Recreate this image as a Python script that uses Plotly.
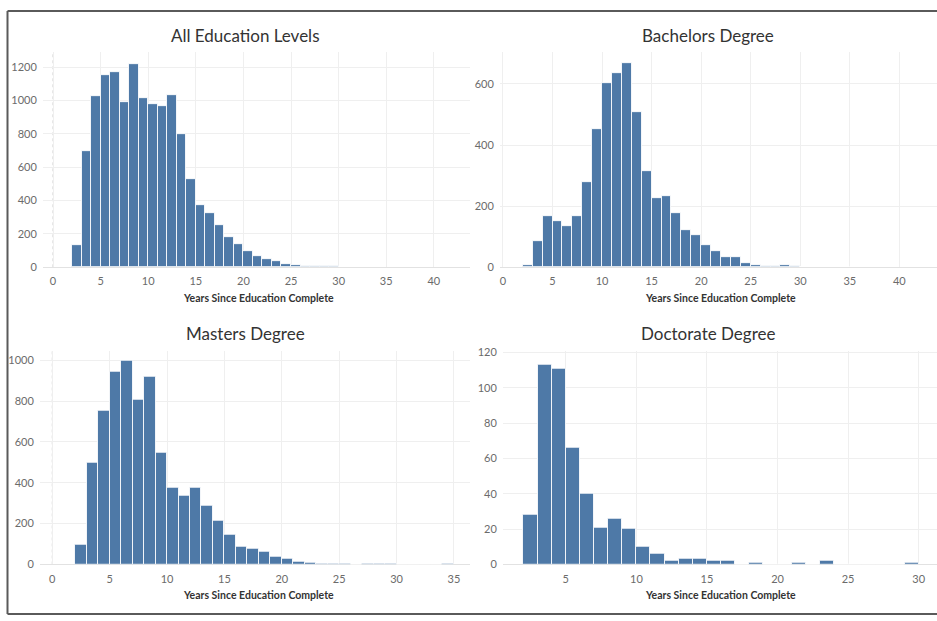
import plotly.graph_objects as go

# ---------------- data (1-year bins; value = bin left edge) ----------------
all_bins = list(range(2, 35))
all_counts = [131, 696, 1025, 1153, 1169, 988, 1220, 1016, 980, 969, 1035, 800,
              531, 373, 324, 253, 182, 139, 98, 65, 47, 35, 20, 12, 4, 8, 8, 4,
              0, 3, 0, 0, 3]

bach_bins = list(range(2, 35))
bach_counts = [6, 85, 166, 151, 135, 166, 278, 453, 602, 634, 667, 509, 315, 225,
               234, 177, 122, 104, 71, 54, 34, 32, 14, 6, 3, 3, 6, 3, 0, 1, 0, 0, 1]

mast_bins = list(range(2, 35))
mast_counts = [96, 500, 753, 942, 995, 807, 920, 547, 373, 335, 373, 288, 214, 144,
               88, 76, 60, 36, 26, 15, 10, 3, 3, 3, 0, 2, 2, 2, 0, 0, 0, 0, 2]

doc_bins = list(range(2, 30))
doc_counts = [28, 113, 111, 66, 40, 21, 26, 20, 10, 6, 2, 3, 3, 2, 2, 0, 1, 0, 0,
              1, 0, 2, 0, 0, 0, 0, 0, 1]

titles = ["All Education Levels", "Bachelors Degree", "Masters Degree", "Doctorate Degree"]
x_title = "Years Since Education Complete"

BAR = "#4e79a7"
GRID = "#efefef"
TICK = "#6b6b6b"
FONT = "Lato"

W, H = 937, 621

# plot areas in pixels: (left, right, top, bottom)
areas = [(43, 470, 48, 267), (500, 937, 48, 267), (40, 470, 352, 569.5), (503, 937, 352, 569.5)]
xranges = [[-1.05, 43.8], [-0.3, 43.8], [-1.07, 36.4], [0.55, 31.3]]
yranges = [[0, 1290], [0, 704], [0, 1046], [0, 121]]
yticks = [list(range(0, 1201, 200)), list(range(0, 601, 200)), list(range(0, 1001, 200)), list(range(0, 121, 20))]
xticks = [list(range(0, 41, 5)), list(range(0, 41, 5)), list(range(0, 36, 5)), list(range(5, 31, 5))]

data = [(all_bins, all_counts), (bach_bins, bach_counts), (mast_bins, mast_counts), (doc_bins, doc_counts)]

fig = go.Figure()
layout = dict(
    width=W, height=H, margin=dict(l=0, r=0, t=0, b=0),
    paper_bgcolor="white", plot_bgcolor="white", showlegend=False,
    bargap=0, font=dict(family=FONT, color=TICK, size=11),
)
annotations = []
shapes = []

for i, ((bins, counts), (l, r, t, b)) in enumerate(zip(data, areas)):
    sx = "" if i == 0 else str(i + 1)
    fig.add_trace(go.Bar(
        x=bins, y=counts, offset=0, width=1,
        marker=dict(color=BAR, line=dict(color="rgba(255,255,255,0.85)", width=1)),
        xaxis="x" + sx, yaxis="y" + sx, hoverinfo="x+y",
    ))
    layout["xaxis" + sx] = dict(
        domain=[l / W, r / W], range=xranges[i], anchor="y" + sx,
        tickvals=xticks[i], showgrid=True, gridcolor=GRID, gridwidth=1,
        zeroline=False,
        showline=False, ticks="outside", ticklen=4, tickcolor="rgba(0,0,0,0)",
        tickfont=dict(size=11, color=TICK, family=FONT), fixedrange=True,
    )
    layout["yaxis" + sx] = dict(
        domain=[1 - b / H, 1 - t / H], range=yranges[i], anchor="x" + sx,
        tickvals=yticks[i], showgrid=True, gridcolor=GRID, gridwidth=1,
        zeroline=True, zerolinecolor="#e2e2e2", zerolinewidth=1,
        showline=False, ticks="outside", ticklen=3, tickcolor="rgba(0,0,0,0)",
        tickfont=dict(size=11, color=TICK, family=FONT), fixedrange=True,
    )
    if i in (0, 2):
        # dotted zero reference line at x = 0
        shapes.append(dict(type="line", xref="x" + sx, yref="y" + sx + " domain",
                           x0=0, x1=0, y0=0, y1=1, layer="below",
                           line=dict(color="#cfcfcf", width=1, dash="dot")))
    # panel title
    annotations.append(dict(
        text=titles[i], xref="paper", yref="paper",
        x=(245 if i % 2 == 0 else 708) / W, y=1 - ((31 if i < 2 else 334)) / H,
        xanchor="center", yanchor="middle", showarrow=False,
        font=dict(family=FONT, size=17, color="#333333"),
    ))
    # axis title
    annotations.append(dict(
        text=x_title, xref="paper", yref="paper",
        x=(258 if i % 2 == 0 else 720) / W, y=1 - ((298 if i < 2 else 601)) / H,
        xanchor="center", yanchor="middle", showarrow=False,
        font=dict(family=FONT, size=10.5, color="#333333", weight="bold"),
    ))

# outer frame: left, top and bottom edges only
frame = dict(color="#5a5a5a", width=2)
x_left = 7.5 / W
y_top = 1 - 6 / H
y_bot = 1 - 620 / H
shapes += [
    dict(type="line", xref="paper", yref="paper", x0=x_left, x1=x_left, y0=y_bot, y1=y_top, line=frame, layer="above"),
    dict(type="line", xref="paper", yref="paper", x0=x_left, x1=1.0, y0=y_top, y1=y_top, line=frame, layer="above"),
    dict(type="line", xref="paper", yref="paper", x0=x_left, x1=1.0, y0=y_bot, y1=y_bot, line=frame, layer="above"),
]

layout["annotations"] = annotations
layout["shapes"] = shapes
fig.update_layout(**layout)

post = (
    "document.documentElement.style.margin='0';"
    "document.documentElement.style.padding='0';"
    "document.documentElement.style.overflow='hidden';"
    "document.body.style.margin='0';"
    "document.body.style.padding='0';"
    "document.body.style.overflow='hidden';"
    "var g=document.getElementsByClassName('plotly-graph-div')[0];"
    "g.style.position='absolute';g.style.left='0px';g.style.top='0px';"
)
fig.write_html("out.html", post_script=post, config={"displayModeBar": False})
